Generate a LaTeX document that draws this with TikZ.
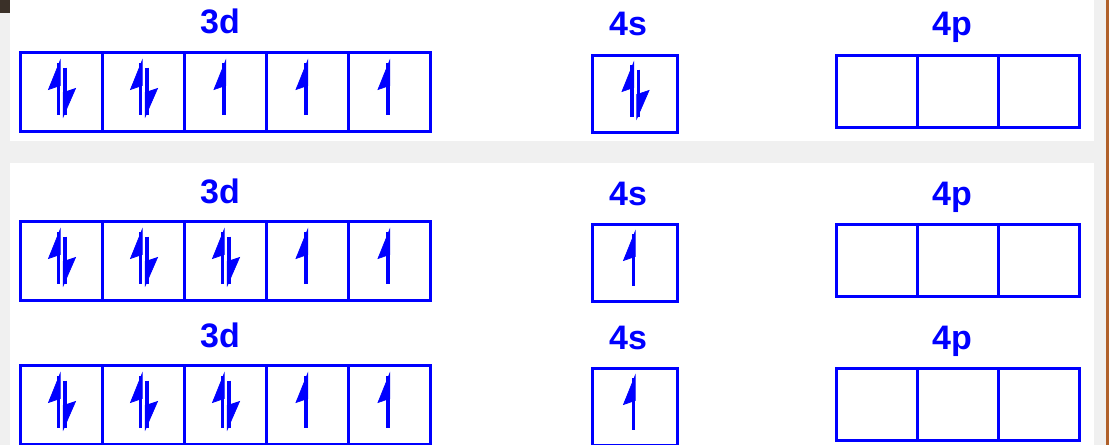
\documentclass[tikz,border=0pt]{standalone}
\usepackage{fontspec}
\setmainfont{Liberation Sans}
\usepackage{tikz}
\usetikzlibrary{positioning}

\definecolor{cornerbrown}{RGB}{58,48,40}
\definecolor{stripbrown}{RGB}{176,96,42}
\definecolor{paper}{RGB}{240,240,240}

\tikzset{
  orb/.style={draw=blue, line width=0.09cm, minimum width=2.46cm, minimum height=2.37cm, inner sep=0pt, outer sep=0pt},
  sbox/.style={orb, minimum width=2.55cm, minimum height=2.31cm},
  pbox/.style={orb, minimum width=2.43cm, minimum height=2.16cm},
  lbl/.style={text=blue, font=\bfseries\fontsize{29}{30}\selectfont, anchor=base},
  shaft/.style={draw=blue, line width=0.105cm},
  barb/.style={fill=blue, draw=blue, line width=0.6pt, line join=miter}
}

% half-headed spin arrows, drawn round a cell centre
\newcommand{\spinup}[1]{%
  \draw[shaft] (#1,23) -- (#1,-29);
  \path[barb] (#1+1.7,-31) -- (#1-10,-2) -- (#1+1.7,-6) -- cycle;}
\newcommand{\spindown}[1]{%
  \draw[shaft] (#1,-24) -- (#1,23);
  \path[barb] (#1-1.7,25) -- (#1+10.5,-3) -- (#1-1.7,1) -- cycle;}
\newcommand{\spinpair}[1]{%
  \begin{scope}[shift={(#1)}]\spinup{-2.5}\spindown{4}\end{scope}}
\newcommand{\spinone}[1]{%
  \begin{scope}[shift={(#1)}]\spinup{-1}\end{scope}}

\begin{document}
\begin{tikzpicture}[x=0.03cm, y=-0.03cm]
	\useasboundingbox (0,0) rectangle (1109,445);
	\fill[paper] (0,0) rectangle (1109,445);
	\fill[white] (10,0) rectangle (1094,141);
	\fill[white] (10,163) rectangle (1094,445);
	\fill[cornerbrown] (0,0) rectangle (10,13);
	\fill[stripbrown] (1106,0) rectangle (1109,445);

	% row 1
	\node[lbl] (al) at (220,33) {3d};
	\node[lbl] (asl) at (628,35) {4s};
	\node[lbl] (apl) at (952,35) {4p};
	\node[orb, anchor=north west] (a1) at (20,52) {};
	\node[orb, right=0pt of a1] (a2) {};
	\node[orb, right=0pt of a2] (a3) {};
	\node[orb, right=0pt of a3] (a4) {};
	\node[orb, right=0pt of a4] (a5) {};
	\node[sbox, anchor=north west] (as) at (592,55) {};
	\node[pbox, anchor=north west] (ap1) at (836,55) {};
	\node[pbox, right=0pt of ap1] (ap2) {};
	\node[pbox, right=0pt of ap2] (ap3) {};
	\spinpair{a1}
	\spinpair{a2}
	\spinone{a3}
	\spinone{a4}
	\spinone{a5}
	\spinpair{as}

	% row 2
	\node[lbl] (bl) at (220,203) {3d};
	\node[lbl] (bsl) at (628,205) {4s};
	\node[lbl] (bpl) at (952,205) {4p};
	\node[orb, anchor=north west] (b1) at (20,221) {};
	\node[orb, right=0pt of b1] (b2) {};
	\node[orb, right=0pt of b2] (b3) {};
	\node[orb, right=0pt of b3] (b4) {};
	\node[orb, right=0pt of b4] (b5) {};
	\node[sbox, anchor=north west] (bs) at (592,224) {};
	\node[pbox, anchor=north west] (bp1) at (836,224) {};
	\node[pbox, right=0pt of bp1] (bp2) {};
	\node[pbox, right=0pt of bp2] (bp3) {};
	\spinpair{b1}
	\spinpair{b2}
	\spinpair{b3}
	\spinone{b4}
	\spinone{b5}
	\spinone{bs}

	% row 3
	\node[lbl] (cl) at (220,347) {3d};
	\node[lbl] (csl) at (628,349) {4s};
	\node[lbl] (cpl) at (952,349) {4p};
	\node[orb, anchor=north west] (c1) at (20,365) {};
	\node[orb, right=0pt of c1] (c2) {};
	\node[orb, right=0pt of c2] (c3) {};
	\node[orb, right=0pt of c3] (c4) {};
	\node[orb, right=0pt of c4] (c5) {};
	\node[sbox, anchor=north west] (cs) at (592,368) {};
	\node[pbox, anchor=north west] (cp1) at (836,368) {};
	\node[pbox, right=0pt of cp1] (cp2) {};
	\node[pbox, right=0pt of cp2] (cp3) {};
	\spinpair{c1}
	\spinpair{c2}
	\spinpair{c3}
	\spinone{c4}
	\spinone{c5}
	\spinone{cs}
\end{tikzpicture}
\end{document}
